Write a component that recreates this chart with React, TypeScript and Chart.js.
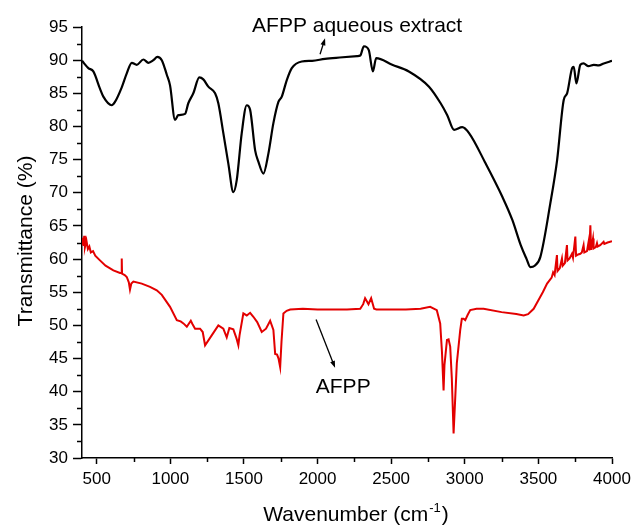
import React, { useEffect, useRef } from 'react';
import { Chart, registerables } from 'chart.js';
Chart.register(...registerables);

const FONT = '"Liberation Sans", Arial, Helvetica, sans-serif';

// AFPP aqueous extract (black)
const blackWn = [
  400, 443, 477, 522, 545, 602, 624, 670, 704, 738,
  772, 817, 851, 885, 912, 942, 976, 998, 1032, 1054,
  1100, 1122, 1156, 1197, 1224, 1258, 1304, 1326, 1360, 1394,
  1428, 1451, 1485, 1519, 1542, 1576, 1598, 1632, 1666, 1700,
  1734, 1757, 1791, 1825, 1893, 1963, 2050, 2150, 2269, 2290,
  2315, 2348, 2376, 2398, 2507, 2620, 2757, 2836, 2881, 2927,
  2983, 3029, 3142, 3255, 3323, 3380, 3420, 3445, 3475, 3513,
  3581, 3627, 3672, 3695, 3729, 3740, 3758, 3785, 3807, 3840,
  3876, 3910, 3944, 4000,
];
const blackT = [
  89.9, 88.8, 88.3, 85.7, 84.5, 83.2, 83.7, 85.9, 88.0, 89.6,
  89.3, 90.1, 89.6, 90.0, 90.5, 90.0, 87.8, 86.2, 81.0, 81.7,
  81.9, 83.5, 85.0, 87.4, 87.1, 86.0, 85.0, 83.5, 79.0, 74.4,
  70.1, 71.9, 79.0, 83.2, 82.5, 76.4, 74.7, 72.9, 75.9, 80.5,
  83.7, 84.5, 87.0, 88.8, 89.8, 89.9, 90.2, 90.4, 90.6, 90.7,
  92.1, 91.5, 88.3, 90.3, 89.3, 88.3, 86.0, 83.5, 81.7, 79.5,
  79.9, 79.0, 74.4, 69.4, 65.9, 62.1, 60.0, 58.8, 59.0, 60.3,
  68.4, 74.9, 84.0, 85.0, 88.8, 89.0, 86.5, 89.3, 89.5, 89.1,
  89.3, 89.2, 89.5, 89.9,
];

// AFPP (red)
const redWn = [
  400, 405, 410, 415, 420, 430, 440, 450, 460, 475,
  490, 522, 560, 613, 658, 668, 670, 672, 690, 704,
  718, 726, 735, 749, 806, 862, 908, 942, 998, 1044,
  1070, 1089, 1112, 1139, 1150, 1168, 1202, 1220, 1236, 1281,
  1326, 1360, 1383, 1401, 1428, 1450, 1462, 1470, 1496, 1519,
  1542, 1564, 1590, 1621, 1650, 1678, 1700, 1712, 1725, 1735,
  1746, 1755, 1768, 1790, 1814, 1900, 2000, 2100, 2200, 2290,
  2310, 2323, 2346, 2364, 2384, 2400, 2500, 2600, 2700, 2765,
  2810, 2833, 2845, 2856, 2862, 2879, 2890, 2901, 2912, 2924,
  2934, 2946, 2969, 2980, 2992, 3003, 3020, 3037, 3080, 3128,
  3250, 3350, 3400, 3430, 3468, 3500, 3530, 3559, 3590, 3600,
  3610, 3626, 3630, 3645, 3660, 3665, 3680, 3694, 3698, 3712,
  3728, 3735, 3751, 3756, 3770, 3785, 3795, 3807, 3812, 3830,
  3841, 3846, 3853, 3858, 3871, 3875, 3890, 3898, 3903, 3920,
  3943, 3948, 3970, 4000,
];
const redT = [
  62.3, 63.2, 62.0, 63.5, 61.8, 62.8, 61.5, 61.9, 61.0, 61.2,
  60.5, 59.8, 59.0, 58.3, 57.9, 57.9, 60.1, 57.8, 57.6, 57.3,
  56.5, 55.4, 56.3, 56.6, 56.3, 55.8, 55.3, 54.6, 52.8, 50.8,
  50.6, 50.3, 49.8, 50.7, 50.2, 49.5, 49.5, 49.0, 47.0, 48.5,
  50.0, 49.5, 48.2, 49.6, 49.4, 48.0, 47.0, 48.5, 51.8, 51.5,
  51.9, 51.3, 50.5, 49.0, 49.5, 50.7, 49.3, 45.7, 45.6, 45.0,
  43.7, 47.5, 51.8, 52.2, 52.4, 52.5, 52.4, 52.4, 52.4, 52.5,
  53.2, 54.1, 53.2, 54.1, 52.5, 52.4, 52.4, 52.4, 52.5, 52.8,
  52.3, 50.3, 46.0, 40.2, 44.0, 47.8, 47.9, 46.8, 42.0, 33.7,
  38.5, 44.3, 49.3, 51.0, 51.0, 50.8, 51.6, 52.3, 52.5, 52.5,
  52.0, 51.7, 51.5, 51.7, 52.5, 53.8, 55.0, 56.3, 57.2, 58.0,
  57.6, 60.6, 58.2, 58.6, 60.1, 59.0, 59.4, 62.1, 59.8, 60.1,
  60.8, 60.2, 63.4, 60.5, 60.7, 60.8, 61.0, 62.1, 61.0, 61.2,
  62.6, 61.3, 65.1, 61.4, 63.1, 61.6, 61.8, 62.4, 61.9, 62.1,
  62.6, 62.3, 62.5, 62.7,
];

const xTicks = [500, 1000, 1500, 2000, 2500, 3000, 3500, 4000];
const xMinor = [750, 1250, 1750, 2250, 2750, 3250, 3750];
const yTicks = [30, 35, 40, 45, 50, 55, 60, 65, 70, 75, 80, 85, 90, 95];
const yMinor = [32.5, 37.5, 42.5, 47.5, 52.5, 57.5, 62.5, 67.5, 72.5, 77.5, 82.5, 87.5, 92.5];

// annotations (data coordinates)
const labelTexts = ['AFPP aqueous extract', 'AFPP'];
const labelWn = [1555, 1988];
const labelT = [94.25, 39.8];
const arrowFromWn = [2017, 1990];
const arrowFromT = [90.9, 50.9];
const arrowToWn = [2051, 2119];
const arrowToT = [93.3, 43.6];

const xTitle = 'Wavenumber (cm';
const xTitleSup = '-1';
const xTitleEnd = ')';
const yTitle = 'Transmittance (%)';

const annotPlugin = {
  id: 'annot',
  afterDraw(chart: any) {
    const { ctx, chartArea, scales } = chart;
    const x = scales.x;
    const y = scales.y;
    ctx.save();
    ctx.strokeStyle = '#000';
    ctx.fillStyle = '#000';
    ctx.lineWidth = 1.5;
    // minor ticks
    xMinor.forEach((v) => {
      const px = Math.round(x.getPixelForValue(v)) + 0.5;
      ctx.beginPath();
      ctx.moveTo(px, chartArea.bottom);
      ctx.lineTo(px, chartArea.bottom + 4);
      ctx.stroke();
    });
    yMinor.forEach((v) => {
      const py = Math.round(y.getPixelForValue(v)) + 0.5;
      ctx.beginPath();
      ctx.moveTo(chartArea.left, py);
      ctx.lineTo(chartArea.left - 5, py);
      ctx.stroke();
    });
    // labels
    ctx.font = `21px ${FONT}`;
    ctx.textAlign = 'left';
    ctx.textBaseline = 'alphabetic';
    labelTexts.forEach((t, i) => {
      ctx.fillText(t, x.getPixelForValue(labelWn[i]), y.getPixelForValue(labelT[i]));
    });
    // arrows
    ctx.lineWidth = 1.3;
    arrowFromWn.forEach((_, i) => {
      const x0 = x.getPixelForValue(arrowFromWn[i]);
      const y0 = y.getPixelForValue(arrowFromT[i]);
      const x1 = x.getPixelForValue(arrowToWn[i]);
      const y1 = y.getPixelForValue(arrowToT[i]);
      const ang = Math.atan2(y1 - y0, x1 - x0);
      const hl = 7;
      const hw = 2.5;
      ctx.beginPath();
      ctx.moveTo(x0, y0);
      ctx.lineTo(x1 - Math.cos(ang) * hl * 0.6, y1 - Math.sin(ang) * hl * 0.6);
      ctx.stroke();
      ctx.beginPath();
      ctx.moveTo(x1, y1);
      ctx.lineTo(x1 - Math.cos(ang) * hl - Math.sin(ang) * hw, y1 - Math.sin(ang) * hl + Math.cos(ang) * hw);
      ctx.lineTo(x1 - Math.cos(ang) * hl + Math.sin(ang) * hw, y1 - Math.sin(ang) * hl - Math.cos(ang) * hw);
      ctx.closePath();
      ctx.fill();
    });
    // axis titles
    ctx.font = `21px ${FONT}`;
    const w1 = ctx.measureText(xTitle).width;
    const w3 = ctx.measureText(xTitleEnd).width;
    ctx.font = `13px ${FONT}`;
    const w2 = ctx.measureText(xTitleSup).width;
    const total = w1 + w2 + w3 + 2;
    const cx = 356;
    let sx = cx - total / 2;
    const by = 521;
    ctx.font = `21px ${FONT}`;
    ctx.fillText(xTitle, sx, by);
    sx += w1 + 1;
    ctx.font = `13px ${FONT}`;
    ctx.fillText(xTitleSup, sx, by - 9);
    sx += w2 + 1;
    ctx.font = `21px ${FONT}`;
    ctx.fillText(xTitleEnd, sx, by);

    ctx.translate(32, 241);
    ctx.rotate(-Math.PI / 2);
    ctx.textAlign = 'center';
    ctx.fillText(yTitle, 0, 0);
    ctx.restore();
  },
};

export default function App() {
  const ref = useRef<HTMLCanvasElement | null>(null);
  useEffect(() => {
    document.body.style.margin = '0';
    const canvas = ref.current;
    if (!canvas) return;
    const chart = new Chart(canvas, {
      type: 'line',
      data: {
        datasets: [
          {
            label: 'AFPP aqueous extract',
            data: blackWn.map((w, i) => ({ x: w, y: blackT[i] })),
            borderColor: '#000000',
            borderWidth: 2.2,
            pointRadius: 0,
            cubicInterpolationMode: 'monotone',
            fill: false,
          },
          {
            label: 'AFPP',
            data: redWn.map((w, i) => ({ x: w, y: redT[i] })),
            borderColor: '#e30000',
            borderWidth: 2,
            pointRadius: 0,
            tension: 0,
            fill: false,
          },
        ],
      },
      options: {
        animation: false,
        responsive: false,
        maintainAspectRatio: false,
        layout: { padding: { top: 27, right: 20, left: 0, bottom: 0 } },
        plugins: { legend: { display: false }, tooltip: { enabled: false } },
        scales: {
          x: {
            type: 'linear',
            min: 400,
            max: 4000,
            afterBuildTicks: (s: any) => {
              s.ticks = xTicks.map((v) => ({ value: v }));
            },
            afterFit: (s: any) => {
              s.height = 68;
              s.paddingLeft = 0;
              s.paddingRight = 0;
            },
            grid: { drawOnChartArea: false, drawTicks: true, tickLength: 6, tickColor: '#000', tickWidth: 1.5 },
            border: { display: true, color: '#000', width: 1.5 },
            ticks: {
              color: '#000',
              font: { family: FONT, size: 17 },
              padding: 5,
              maxRotation: 0,
              autoSkip: false,
              callback: (v: any) => String(v),
            },
          },
          y: {
            type: 'linear',
            min: 30,
            max: 95,
            afterBuildTicks: (s: any) => {
              s.ticks = yTicks.map((v) => ({ value: v }));
            },
            afterFit: (s: any) => {
              s.width = 82;
              s.paddingTop = 0;
              s.paddingBottom = 0;
            },
            grid: { drawOnChartArea: false, drawTicks: true, tickLength: 9, tickColor: '#000', tickWidth: 1.5 },
            border: { display: true, color: '#000', width: 1.5 },
            ticks: {
              color: '#000',
              font: { family: FONT, size: 17 },
              padding: 5,
              autoSkip: false,
              callback: (v: any) => String(v),
            },
          },
        },
      },
      plugins: [annotPlugin],
    } as any);
    return () => chart.destroy();
  }, []);
  return (
    <div style={{ width: 632, height: 526, background: '#fff' }}>
      <canvas ref={ref} width={632} height={526} style={{ display: 'block' }} />
    </div>
  );
}
